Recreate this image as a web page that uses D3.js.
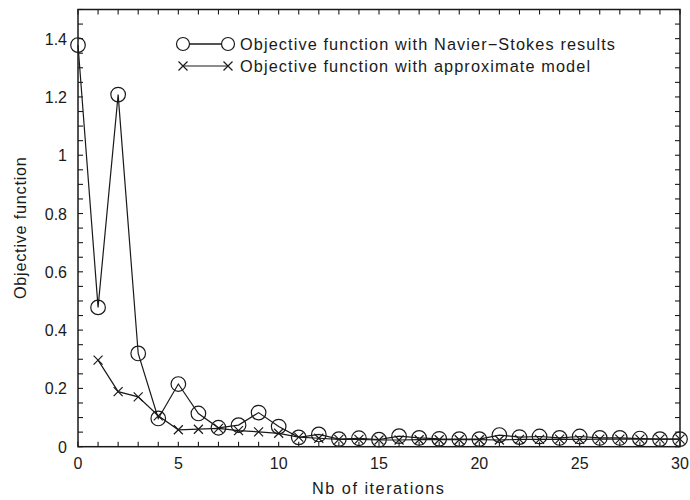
<!DOCTYPE html>
<html><head><meta charset="utf-8">
<script src="https://cdn.jsdelivr.net/npm/d3@7"></script>
<style>body{margin:0;background:#fff}svg{display:block}text{font-family:"Liberation Sans",Arial,sans-serif;fill:#1a1a1a}</style>
</head><body><svg id="c" width="690" height="500"></svg>
<script>
const iterations = d3.range(0, 31);
const navierStokes = [1.378, 0.478, 1.208, 0.32, 0.097, 0.215, 0.114, 0.065, 0.074, 0.117, 0.069, 0.032, 0.042, 0.026, 0.029,
  0.024, 0.036, 0.03, 0.027, 0.026, 0.026, 0.04, 0.033, 0.035, 0.03, 0.035, 0.03, 0.03, 0.028, 0.026, 0.026];
const approxModel = [null, 0.297, 0.189, 0.171, 0.106, 0.058, 0.06, 0.063, 0.055, 0.051, 0.046, 0.033, 0.029, 0.025, 0.025,
  0.023, 0.023, 0.024, 0.024, 0.024, 0.024, 0.023, 0.025, 0.025, 0.026, 0.025, 0.026, 0.026, 0.026, 0.026, 0.026];
const xTickLabels = [0, 5, 10, 15, 20, 25, 30];
const yTickLabels = [0, 0.2, 0.4, 0.6, 0.8, 1, 1.2, 1.4];
const seriesNames = ["Objective function with Navier\u2212Stokes results", "Objective function with approximate model"];

const svg = d3.select("#c");
const L = 78, R = 680, T = 9.5, B = 446.7;
const x = d3.scaleLinear().domain([0, 30]).range([L, R]);
const y = d3.scaleLinear().domain([0, 1.5]).range([B, T]);
const ink = "#1a1a1a";

// frame
svg.append("rect").attr("x", L).attr("y", T).attr("width", R - L).attr("height", B - T)
  .attr("fill", "none").attr("stroke", ink).attr("stroke-width", 1.5);

const tl = 5;
const xt = d3.range(0, 31);
const yt = d3.range(0, 31).map(i => i * 0.05);
const g = svg.append("g").attr("stroke", ink).attr("stroke-width", 1.1);
xt.forEach(v => {
  g.append("line").attr("x1", x(v)).attr("x2", x(v)).attr("y1", B).attr("y2", B - tl);
  g.append("line").attr("x1", x(v)).attr("x2", x(v)).attr("y1", T).attr("y2", T + tl);
});
yt.forEach(v => {
  g.append("line").attr("y1", y(v)).attr("y2", y(v)).attr("x1", L).attr("x2", L + tl);
  g.append("line").attr("y1", y(v)).attr("y2", y(v)).attr("x1", R).attr("x2", R - tl);
});

// tick labels
svg.selectAll(".xl").data(xTickLabels).join("text")
  .attr("x", d => x(d)).attr("y", B + 22).attr("text-anchor", "middle").attr("font-size", 16).text(d => d);
svg.selectAll(".yl").data(yTickLabels).join("text")
  .attr("x", L - 11).attr("y", d => y(d) + 6).attr("text-anchor", "end").attr("font-size", 16).text(d => d);

svg.append("text").attr("x", 312).attr("y", 493.5).attr("font-size", 16.3)
  .attr("textLength", 132).text("Nb of iterations");
svg.append("text").attr("transform", `translate(26,${(T + B) / 2 + 71}) rotate(-90)`).attr("font-size", 16.3)
  .attr("textLength", 142).text("Objective function");

const line = d3.line().defined(d => d[1] != null).x(d => x(d[0])).y(d => y(d[1]));
const ns = iterations.map((it, i) => [it, navierStokes[i]]);
const am = iterations.map((it, i) => [it, approxModel[i]]).filter(d => d[1] != null);

svg.append("path").attr("d", line(am)).attr("fill", "none").attr("stroke", ink).attr("stroke-width", 1.2);
svg.append("path").attr("d", line(ns)).attr("fill", "none").attr("stroke", ink).attr("stroke-width", 1.2);

function cross(sel, cx, cy, s) {
  sel.append("path").attr("d", `M${cx - s},${cy - s}L${cx + s},${cy + s}M${cx - s},${cy + s}L${cx + s},${cy - s}`)
    .attr("stroke", ink).attr("stroke-width", 1.2).attr("fill", "none");
}
const mk = svg.append("g");
am.forEach(d => cross(mk, x(d[0]), y(d[1]), 4.5));
mk.selectAll("circle").data(ns).join("circle").attr("cx", d => x(d[0])).attr("cy", d => y(d[1])).attr("r", 7.3)
  .attr("fill", "none").attr("stroke", ink).attr("stroke-width", 1.2);

// legend
const lg = svg.append("g");
const lx1 = 183, lx2 = 228, ly1 = 44, ly2 = 66;
lg.append("line").attr("x1", lx1).attr("x2", lx2).attr("y1", ly1).attr("y2", ly1).attr("stroke", ink).attr("stroke-width", 1.4);
lg.append("circle").attr("cx", lx1).attr("cy", ly1).attr("r", 6.5).attr("fill", "#fff").attr("stroke", ink).attr("stroke-width", 1.2);
lg.append("circle").attr("cx", lx2).attr("cy", ly1).attr("r", 6.5).attr("fill", "#fff").attr("stroke", ink).attr("stroke-width", 1.2);
lg.append("line").attr("x1", lx1).attr("x2", lx2).attr("y1", ly2).attr("y2", ly2).attr("stroke", ink).attr("stroke-width", 1.2);
cross(lg, lx1, ly2, 4.5); cross(lg, lx2, ly2, 4.5);
lg.append("text").attr("x", 240).attr("y", ly1 + 6).attr("font-size", 16.3).attr("textLength", 375).text(seriesNames[0]);
lg.append("text").attr("x", 240).attr("y", ly2 + 6).attr("font-size", 16.3).attr("textLength", 350).text(seriesNames[1]);
</script></body></html>
